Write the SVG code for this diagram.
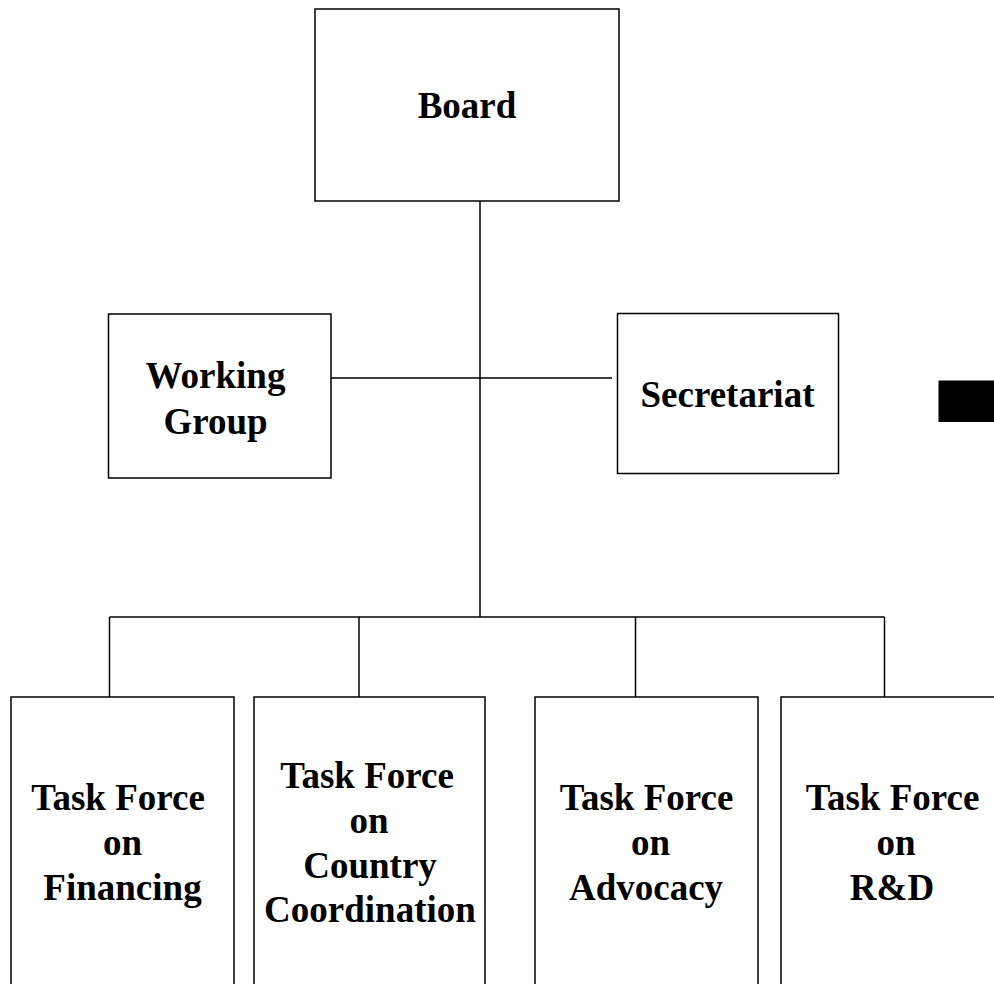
<svg xmlns="http://www.w3.org/2000/svg" width="994" height="984" viewBox="0 0 994 984">
<style>
.box{fill:#fff;stroke:#000;stroke-width:1.5}
.ln{stroke:#000;stroke-width:1.5;fill:none}
text{font-family:"Liberation Serif","Times New Roman",serif;font-weight:bold;font-size:37px;fill:#000;text-anchor:middle}
</style>
<rect width="994" height="984" fill="#fff"/>
<g id="connectors">
<line class="ln" x1="480" y1="201" x2="480" y2="617"/>
<line class="ln" x1="331" y1="378" x2="612" y2="378"/>
<line class="ln" x1="109.5" y1="617" x2="884.5" y2="617"/>
<line class="ln" x1="109.5" y1="617" x2="109.5" y2="697"/>
<line class="ln" x1="359" y1="617" x2="359" y2="697"/>
<line class="ln" x1="635.5" y1="617" x2="635.5" y2="697"/>
<line class="ln" x1="884.5" y1="617" x2="884.5" y2="697"/>
</g>
<g id="board">
<rect class="box" x="315" y="9" width="304" height="192"/>
<text x="467" y="118">Board</text>
</g>
<g id="working-group">
<rect class="box" x="108.5" y="314" width="222.5" height="164"/>
<text x="215.5" y="388">Working</text>
<text x="215.5" y="434">Group</text>
</g>
<g id="secretariat">
<rect class="box" x="617.5" y="313.5" width="221" height="160"/>
<text x="727.5" y="407">Secretariat</text>
</g>
<g id="black-block">
<rect x="938.5" y="380.5" width="60" height="41.5" fill="#000"/>
</g>
<g id="tf-financing">
<rect class="box" x="11" y="697" width="223" height="300"/>
<text x="118" y="810">Task Force</text>
<text x="122.5" y="855">on</text>
<text x="122.5" y="900">Financing</text>
</g>
<g id="tf-country">
<rect class="box" x="254" y="697" width="231" height="300"/>
<text x="367" y="788">Task Force</text>
<text x="369" y="833">on</text>
<text x="370" y="878">Country</text>
<text x="370" y="922">Coordination</text>
</g>
<g id="tf-advocacy">
<rect class="box" x="535" y="697" width="223" height="300"/>
<text x="646.5" y="810">Task Force</text>
<text x="650.5" y="855">on</text>
<text x="646" y="900">Advocacy</text>
</g>
<g id="tf-rd">
<rect class="box" x="781" y="697" width="224" height="300"/>
<text x="892.5" y="810">Task Force</text>
<text x="896" y="855">on</text>
<text x="892" y="900">R&amp;D</text>
</g>
</svg>
